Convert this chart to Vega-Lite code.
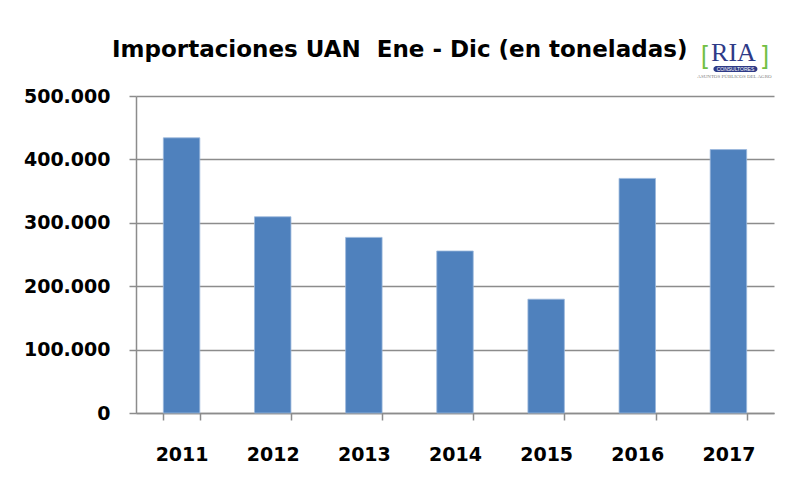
{
  "$schema": "https://vega.github.io/schema/vega-lite/v6.json",
  "width": 638,
  "height": 317,
  "autosize": "none",
  "padding": {"left": 136, "top": 96, "right": 16, "bottom": 79},
  "background": "white",
  "title": {
    "text": "Importaciones UAN \u00a0Ene - Dic (en toneladas)",
    "font": "DejaVu Sans",
    "fontSize": 23,
    "fontWeight": "bold",
    "color": "#000000",
    "anchor": "middle",
    "frame": "bounds",
    "offset": -22,
    "dx": 1
  },
  "config": {
    "locale": {"number": {"decimal": ",", "thousands": ".", "grouping": [3], "currency": ["", " €"]}},
    "view": {"stroke": null},
    "axis": {
      "labelFont": "DejaVu Sans",
      "labelFontWeight": "bold",
      "labelFontSize": 19,
      "labelColor": "#000000",
      "domainColor": "#8c8c8c",
      "domainWidth": 1.5,
      "tickColor": "#8c8c8c",
      "tickWidth": 1.5,
      "tickSize": 7,
      "gridColor": "#8c8c8c",
      "gridWidth": 1.5,
      "title": null
    }
  },
  "data": {
    "values": [
      {"year": "2011", "toneladas": 434000},
      {"year": "2012", "toneladas": 309500},
      {"year": "2013", "toneladas": 277000},
      {"year": "2014", "toneladas": 255500},
      {"year": "2015", "toneladas": 179500},
      {"year": "2016", "toneladas": 370000},
      {"year": "2017", "toneladas": 415500}
    ]
  },
  "encoding": {
    "x": {
      "field": "year",
      "type": "nominal",
      "scale": {"paddingInner": 0.6, "paddingOuter": 0.3},
      "axis": {"labelAngle": 0, "tickBand": "extent", "labelPadding": 25, "grid": false}
    }
  },
  "layer": [
    {
      "mark": {"type": "bar", "color": "#4f81bd", "stroke": "#9bb8dc", "strokeWidth": 0.8},
      "encoding": {
        "y": {
          "field": "toneladas",
          "type": "quantitative",
          "scale": {"domain": [0, 500000], "nice": false},
          "axis": {"values": [0, 100000, 200000, 300000, 400000, 500000], "format": ",d", "labelPadding": 19, "grid": true}
        }
      }
    },
    {
      "data": {"values": [{"part": "left"}]},
      "mark": {"type": "text", "text": "[", "font": "Liberation Sans", "fontSize": 25, "color": "#72bf44", "baseline": "alphabetic", "dx": -24},
      "encoding": {"x": {"datum": "2017"}, "y": {"datum": 551000}}
    },
    {
      "data": {"values": [{"part": "right"}]},
      "mark": {"type": "text", "text": "]", "font": "Liberation Sans", "fontSize": 25, "color": "#72bf44", "baseline": "alphabetic", "dx": 37},
      "encoding": {"x": {"datum": "2017"}, "y": {"datum": 551000}}
    },
    {
      "data": {"values": [{"part": "name"}]},
      "mark": {"type": "text", "text": "RIA", "font": "Liberation Serif", "fontSize": 26, "color": "#2e3a87", "baseline": "alphabetic", "dx": 5},
      "encoding": {"x": {"datum": "2017"}, "y": {"datum": 554500}}
    },
    {
      "data": {"values": [{"part": "pill"}]},
      "mark": {"type": "tick", "orient": "horizontal", "size": 44, "thickness": 6, "color": "#2e3a87", "opacity": 1, "cornerRadius": 3, "xOffset": 7},
      "encoding": {"x": {"datum": "2017"}, "y": {"datum": 542500}}
    },
    {
      "data": {"values": [{"part": "pilltext"}]},
      "mark": {"type": "text", "text": "CONSULTORES", "font": "Liberation Sans", "fontSize": 5, "color": "#ffffff", "baseline": "middle", "dx": 7},
      "encoding": {"x": {"datum": "2017"}, "y": {"datum": 542500}}
    },
    {
      "data": {"values": [{"part": "tagline"}]},
      "mark": {"type": "text", "text": "ASUNTOS PÚBLICOS DEL AGRO", "font": "Liberation Serif", "fontSize": 5, "color": "#7f7f7f", "baseline": "middle", "dx": 6},
      "encoding": {"x": {"datum": "2017"}, "y": {"datum": 531000}}
    }
  ]
}
